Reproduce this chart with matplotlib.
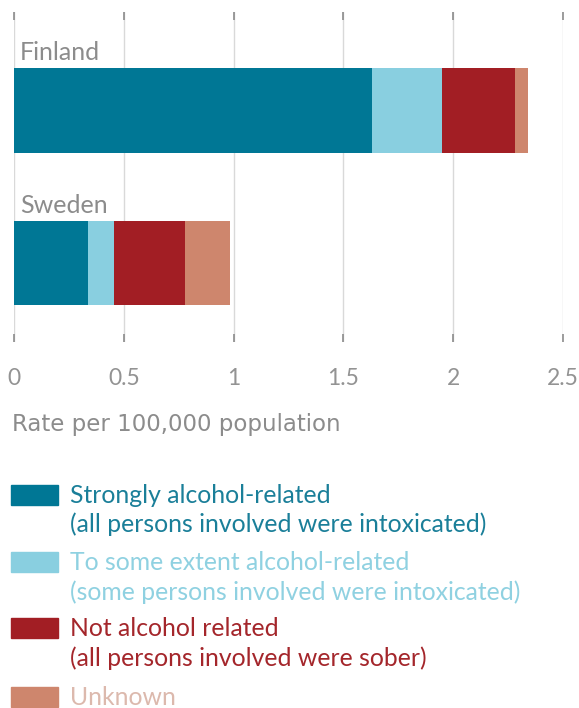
import matplotlib
matplotlib.use('Agg')
from matplotlib import pyplot as plt
from matplotlib.patches import Rectangle

countries = ['Finland', 'Sweden']
categories = [
    'Strongly alcohol-related\n(all persons involved were intoxicated)',
    'To some extent alcohol-related\n(some persons involved were intoxicated)',
    'Not alcohol related\n(all persons involved were sober)',
    'Unknown',
]
strongly = [1.63, 0.335]
some_extent = [0.32, 0.12]
not_related = [0.33, 0.325]
unknown = [0.06, 0.205]
series = [strongly, some_extent, not_related, unknown]

bar_colors = ['#007795', '#89cfe0', '#a21e24', '#ce866d']
text_colors = ['#1a7f99', '#8fd1e1', '#a4262b', '#dcb9ad']
xticks = [0, 0.5, 1, 1.5, 2, 2.5]
xticklabels = ['0', '0.5', '1', '1.5', '2', '2.5']

plt.rcParams['font.family'] = ['Lato', 'DejaVu Sans']

W, H = 579, 708
fig = plt.figure(figsize=(W / 100, H / 100), dpi=100)
ax = fig.add_axes([14 / W, 1 - 342 / H, (563 - 14) / W, (342 - 12) / H])

ypos = list(range(len(countries)))
left = [0.0] * len(countries)
for vals, col in zip(series, bar_colors):
    ax.barh(ypos, vals, left=left, height=0.557, color=col, zorder=3)
    left = [a + b for a, b in zip(left, vals)]

ax.set_xlim(-0.001, 2.501)
ax.set_ylim(1.518, -0.646)
ax.set_xticks(xticks)
ax.set_xticklabels(xticklabels, color='#939393', fontsize=16.5)
ax.set_yticks([])
ax.grid(axis='x', color='#d9d9d9', linewidth=1, zorder=0)
ax.tick_params(axis='x', direction='in', length=6, width=1.2, color='#8c8c8c',
               top=True, bottom=True, pad=19)
for s in ax.spines.values():
    s.set_visible(False)

for i, name in enumerate(countries):
    ax.text(0.025, i - 0.33, name, fontsize=18, color='#8c8c8c',
            va='baseline', ha='left', zorder=4)

fig.text(12 / W, 1 - 431 / H, 'Rate per 100,000 population', fontsize=16.5,
         color='#8c8c8c', ha='left', va='baseline', fontfamily='DejaVu Sans')

# legend
patch_tops = [485, 552, 618, 687]
for lab, top, bc, tc in zip(categories, patch_tops, bar_colors, text_colors):
    fig.patches.append(Rectangle((11 / W, 1 - (top + 20) / H), 47 / W, 20 / H,
                                 transform=fig.transFigure, color=bc))
    for k, line in enumerate(lab.split('\n')):
        fig.text(70 / W, 1 - (top + 18 + 29.5 * k) / H, line, fontsize=17.8,
                 color=tc, ha='left', va='baseline')

fig.savefig('out.png', dpi=100)
